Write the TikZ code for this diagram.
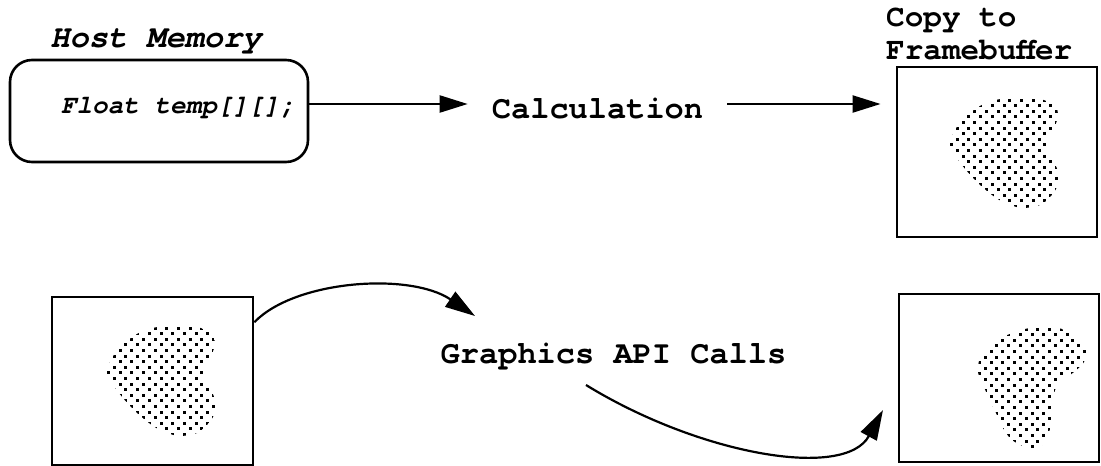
\documentclass[tikz,border=0pt]{standalone}
\usepackage{fontspec}
\setmonofont{texgyrecursor}[Extension=.otf, UprightFont=*-regular, BoldFont=*-bold, ItalicFont=*-italic, BoldItalicFont=*-bolditalic]
\usetikzlibrary{arrows.meta}
\begin{document}
\begin{tikzpicture}[x=1pt,y=-1pt,
  lbl/.style={font=\ttfamily\bfseries\fontsize{32}{33}\selectfont, inner sep=0pt},
  ilbl/.style={font=\ttfamily\bfseries\itshape\fontsize{#1}{#1}\selectfont, inner sep=0pt},
  frame/.style={draw, line width=2.8pt, minimum width=200pt, minimum height=168pt, inner sep=0pt},
  arr/.style={line width=2.2pt, -{Triangle[length=28pt,width=17pt]}},
  carr/.style={line width=2.2pt, -{Triangle[length=30pt,width=18pt]}}]
\useasboundingbox (0,0) rectangle (1101,466);

% ---- dotted blob outlines (absolute coords for top-right frame)
\def\blobA{(1015,98) (1040,99) (1055,106) (1058,116) (1054,128) (1047,142) (1048,152) (1054,162) (1059,175) (1057,187) (1050,197) (1040,205) (1022,208) (1005,203) (992,195) (978,183) (966,170) (957,158) (950,145) (955,130) (965,117) (980,106) (995,100)}
\def\blobB{(1047,326) (1065,330) (1078,337) (1086,350) (1084,362) (1074,372) (1063,380) (1055,390) (1053,405) (1052,420) (1048,435) (1040,447) (1028,448) (1012,440) (1003,428) (996,413) (989,398) (983,385) (978,372) (980,358) (990,345) (1005,336) (1025,329)}

% frames
\node[frame, minimum height=170pt] (fb) at (997,152) {};
\node[frame, minimum width=201pt] (blbox) at (152.5,381) {};
\node[frame] (brbox) at (999,378) {};

% dotted blobs
\begin{scope}
  \clip plot[smooth cycle] coordinates {\blobA};
  \foreach \j in {0,...,22} {
    \foreach \i in {0,...,10} {
      \fill ({944+11.7*\i+5.85*mod(\j,2)},{93+5.6*\j}) rectangle +(3,3);
    }
  }
\end{scope}
\begin{scope}[shift={(-843,228)}]
  \clip plot[smooth cycle] coordinates {\blobA};
  \foreach \j in {0,...,22} {
    \foreach \i in {0,...,10} {
      \fill ({944+11.7*\i+5.85*mod(\j,2)},{93+5.6*\j}) rectangle +(3,3);
    }
  }
\end{scope}
\begin{scope}
  \clip plot[smooth cycle] coordinates {\blobB};
  \foreach \j in {0,...,23} {
    \foreach \i in {0,...,10} {
      \fill ({972+11.7*\i+5.85*mod(\j,2)},{322+5.6*\j}) rectangle +(3,3);
    }
  }
\end{scope}

% host memory
\node[ilbl=32, anchor=base] (hostlbl) at (156,47) {Host Memory};
\node[draw, line width=2.6pt, rounded corners=22pt, minimum width=298pt, minimum height=102pt, inner sep=0pt] (host) at (159,111) {};
\node[ilbl=26, anchor=base] (hosttxt) at (178,113) {Float temp[][];};

% calculation
\node[lbl, anchor=base, text height=28pt, text depth=0pt, inner xsep=24pt] (calc) at (597.5,118) {Calculation};
\node[lbl, font=\ttfamily\bfseries\fontsize{31}{33}\selectfont, align=left, anchor=base west] (fbl) at (886,59) {Copy to\\Framebuffer};

\draw[arr] (host.east |- calc.west) -- (calc.west);
\draw[arr, shorten >=15pt] (calc.east) -- (calc.east -| fb.west);

% graphics api
\node[lbl, anchor=base] (gfx) at (613.5,363) {Graphics API Calls};
\coordinate (c1end) at (475,316);
\coordinate (c2start) at (586,385);
\coordinate (c2end) at (883,410);
\draw[carr] (blbox.30) .. controls (295,280) and (410,272) .. (c1end);
\draw[carr] (c2start) .. controls (700,455) and (845,480) .. (c2end);
\end{tikzpicture}
\end{document}
